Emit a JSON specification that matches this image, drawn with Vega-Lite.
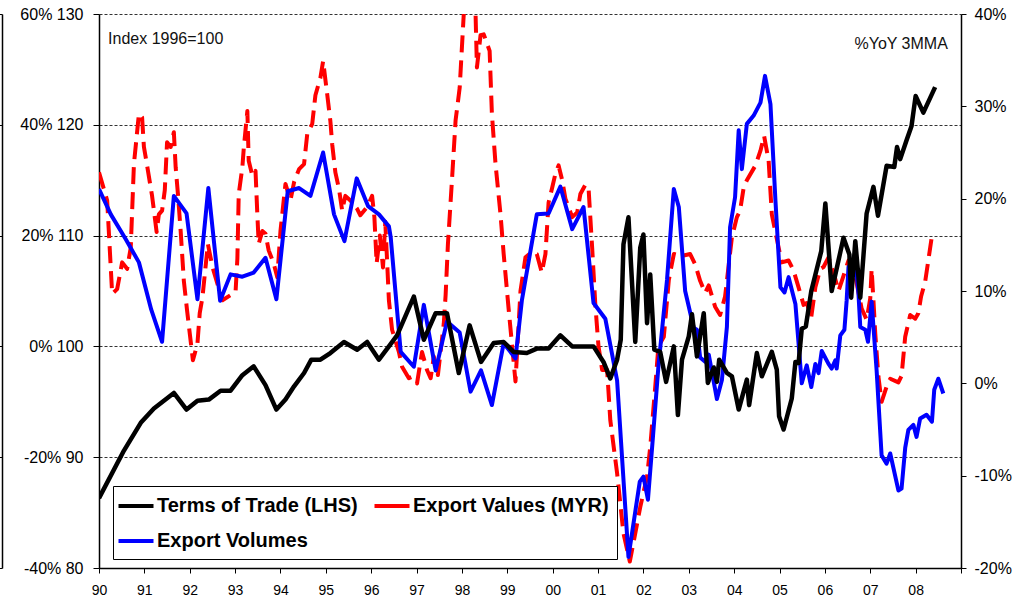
{
  "$schema": "https://vega.github.io/schema/vega-lite/v6.json",
  "width": 862,
  "height": 554,
  "autosize": {"type": "none"},
  "padding": {"left": 99, "top": 14, "right": 54, "bottom": 35},
  "background": "white",
  "config": {
    "view": {"stroke": null},
    "font": "Liberation Sans",
    "axis": {"labelFont": "Liberation Sans", "labelColor": "black", "domainColor": "black", "tickColor": "black", "title": null}
  },
  "datasets": {
    "tot": [
      {"t":1990.00,"v":86.3},{"t":1990.55,"v":90.6},{"t":1990.92,"v":93.1},{"t":1991.21,"v":94.4},{"t":1991.65,"v":95.8},{"t":1991.93,"v":94.3},
      {"t":1992.17,"v":95.1},{"t":1992.42,"v":95.2},{"t":1992.68,"v":96.0},{"t":1992.90,"v":96.0},{"t":1993.16,"v":97.4},{"t":1993.41,"v":98.2},
      {"t":1993.67,"v":96.5},{"t":1993.91,"v":94.3},{"t":1994.11,"v":95.2},{"t":1994.30,"v":96.4},{"t":1994.52,"v":97.6},{"t":1994.68,"v":98.8},
      {"t":1994.88,"v":98.8},{"t":1995.10,"v":99.4},{"t":1995.40,"v":100.4},{"t":1995.69,"v":99.7},{"t":1995.91,"v":100.4},{"t":1996.17,"v":98.8},
      {"t":1996.39,"v":100.0},{"t":1996.57,"v":101.0},{"t":1996.94,"v":104.5},{"t":1997.16,"v":100.6},{"t":1997.42,"v":103.0},{"t":1997.67,"v":103.0},
      {"t":1997.93,"v":97.6},{"t":1998.17,"v":101.9},{"t":1998.42,"v":98.6},{"t":1998.70,"v":100.3},{"t":1998.92,"v":100.4},{"t":1999.14,"v":99.5},
      {"t":1999.43,"v":99.4},{"t":1999.65,"v":99.8},{"t":1999.91,"v":99.8},{"t":2000.17,"v":101.0},{"t":2000.43,"v":100.0},{"t":2000.90,"v":100.0},
      {"t":2001.12,"v":98.6},{"t":2001.27,"v":97.1},{"t":2001.42,"v":98.8},{"t":2001.50,"v":100.6},{"t":2001.56,"v":109.2},{"t":2001.67,"v":111.65},
      {"t":2001.82,"v":100.4},{"t":2001.93,"v":108.9},{"t":2002.00,"v":110.1},{"t":2002.08,"v":102.1},{"t":2002.15,"v":106.5},{"t":2002.24,"v":99.7},
      {"t":2002.37,"v":99.5},{"t":2002.50,"v":96.8},{"t":2002.67,"v":100.0},{"t":2002.76,"v":93.8},{"t":2002.85,"v":98.8},{"t":2003.00,"v":100.9},
      {"t":2003.07,"v":102.9},{"t":2003.18,"v":99.1},{"t":2003.33,"v":103.0},{"t":2003.42,"v":96.7},{"t":2003.55,"v":98.1},{"t":2003.62,"v":96.8},
      {"t":2003.67,"v":98.8},{"t":2003.84,"v":97.6},{"t":2003.95,"v":97.3},{"t":2004.10,"v":94.3},{"t":2004.28,"v":97.0},{"t":2004.33,"v":94.7},
      {"t":2004.50,"v":99.4},{"t":2004.61,"v":97.3},{"t":2004.83,"v":99.5},{"t":2004.94,"v":97.9},{"t":2004.99,"v":93.7},{"t":2005.09,"v":92.5},
      {"t":2005.27,"v":95.3},{"t":2005.35,"v":98.6},{"t":2005.42,"v":98.5},{"t":2005.49,"v":101.6},{"t":2005.58,"v":101.8},{"t":2005.70,"v":105.0},
      {"t":2005.92,"v":108.6},{"t":2006.01,"v":112.9},{"t":2006.15,"v":105.0},{"t":2006.41,"v":109.8},{"t":2006.54,"v":108.3},{"t":2006.58,"v":104.4},
      {"t":2006.67,"v":109.5},{"t":2006.78,"v":104.4},{"t":2006.92,"v":112.0},{"t":2007.07,"v":114.4},{"t":2007.17,"v":111.8},{"t":2007.36,"v":116.3},
      {"t":2007.53,"v":116.2},{"t":2007.59,"v":118.0},{"t":2007.66,"v":116.9},{"t":2007.80,"v":118.6},{"t":2007.91,"v":119.9},{"t":2008.00,"v":122.6},
      {"t":2008.17,"v":121.1},{"t":2008.43,"v":123.4}
    ],
    "ev": [
      {"t":1990.00,"v":22.85},{"t":1990.18,"v":19.8},{"t":1990.29,"v":9.7},{"t":1990.40,"v":10.2},{"t":1990.51,"v":13.1},{"t":1990.62,"v":12.4},
      {"t":1990.70,"v":14.7},{"t":1990.77,"v":23.75},{"t":1990.88,"v":29.2},{"t":1990.95,"v":28.8},{"t":1990.99,"v":25.6},{"t":1991.06,"v":23.6},
      {"t":1991.17,"v":20.3},{"t":1991.27,"v":16.4},{"t":1991.32,"v":18.3},{"t":1991.39,"v":18.7},{"t":1991.45,"v":20.9},{"t":1991.50,"v":26.1},
      {"t":1991.58,"v":25.6},{"t":1991.65,"v":27.2},{"t":1991.69,"v":23.4},{"t":1991.74,"v":20.5},{"t":1991.80,"v":16.5},{"t":1991.87,"v":11.1},
      {"t":1991.94,"v":7.95},{"t":1992.07,"v":2.5},{"t":1992.17,"v":4.3},{"t":1992.22,"v":7.6},{"t":1992.28,"v":9.3},{"t":1992.40,"v":15.1},
      {"t":1992.50,"v":12.6},{"t":1992.72,"v":9.0},{"t":1993.01,"v":9.9},{"t":1993.05,"v":13.5},{"t":1993.08,"v":20.5},{"t":1993.16,"v":23.4},
      {"t":1993.19,"v":25.4},{"t":1993.27,"v":29.5},{"t":1993.30,"v":24.1},{"t":1993.38,"v":22.5},{"t":1993.45,"v":23.0},{"t":1993.49,"v":18.3},
      {"t":1993.52,"v":15.1},{"t":1993.60,"v":16.5},{"t":1993.67,"v":16.2},{"t":1993.74,"v":14.4},{"t":1993.85,"v":13.0},{"t":1993.93,"v":11.5},
      {"t":1994.00,"v":16.5},{"t":1994.11,"v":21.6},{"t":1994.22,"v":19.8},{"t":1994.30,"v":21.8},{"t":1994.41,"v":23.2},{"t":1994.52,"v":23.75},
      {"t":1994.59,"v":27.0},{"t":1994.70,"v":28.1},{"t":1994.77,"v":31.2},{"t":1994.88,"v":33.1},{"t":1994.94,"v":34.9},{"t":1995.03,"v":31.3},
      {"t":1995.10,"v":28.4},{"t":1995.14,"v":25.9},{"t":1995.21,"v":22.85},{"t":1995.29,"v":21.05},{"t":1995.36,"v":18.7},{"t":1995.43,"v":20.3},
      {"t":1995.54,"v":19.8},{"t":1995.69,"v":18.9},{"t":1995.76,"v":18.2},{"t":1995.91,"v":19.1},{"t":1996.02,"v":20.3},{"t":1996.07,"v":18.0},
      {"t":1996.12,"v":13.0},{"t":1996.19,"v":16.0},{"t":1996.26,"v":12.55},{"t":1996.31,"v":17.5},{"t":1996.39,"v":9.0},{"t":1996.46,"v":5.8},
      {"t":1996.61,"v":3.4},{"t":1996.68,"v":1.8},{"t":1996.83,"v":0.55},{"t":1996.90,"v":0.7},{"t":1997.01,"v":0.0},{"t":1997.12,"v":3.4},
      {"t":1997.23,"v":1.45},{"t":1997.31,"v":0.55},{"t":1997.38,"v":2.9},{"t":1997.47,"v":0.9},{"t":1997.60,"v":6.5},{"t":1997.64,"v":9.55},
      {"t":1997.69,"v":15.0},{"t":1997.78,"v":22.0},{"t":1997.86,"v":28.5},{"t":1997.95,"v":32.0},{"t":1998.04,"v":40.0},{"t":1998.11,"v":44.0},
      {"t":1998.19,"v":44.5},{"t":1998.30,"v":40.0},{"t":1998.33,"v":34.2},{"t":1998.41,"v":37.7},{"t":1998.48,"v":37.8},{"t":1998.61,"v":36.0},
      {"t":1998.66,"v":29.2},{"t":1998.74,"v":23.75},{"t":1998.85,"v":18.3},{"t":1998.92,"v":14.0},{"t":1999.03,"v":8.0},{"t":1999.18,"v":0.2},
      {"t":1999.29,"v":10.0},{"t":1999.40,"v":13.65},{"t":1999.54,"v":14.2},{"t":1999.65,"v":14.0},{"t":1999.76,"v":12.0},{"t":1999.84,"v":14.0},
      {"t":1999.91,"v":19.6},{"t":1999.99,"v":21.2},{"t":2000.06,"v":22.7},{"t":2000.13,"v":23.6},{"t":2000.21,"v":22.0},{"t":2000.28,"v":20.0},
      {"t":2000.43,"v":18.0},{"t":2000.54,"v":18.5},{"t":2000.61,"v":20.5},{"t":2000.72,"v":21.5},{"t":2000.79,"v":21.2},{"t":2000.87,"v":14.7},
      {"t":2000.94,"v":8.5},{"t":2001.01,"v":4.0},{"t":2001.09,"v":1.45},{"t":2001.20,"v":1.45},{"t":2001.27,"v":-4.0},{"t":2001.42,"v":-9.75},
      {"t":2001.56,"v":-16.25},{"t":2001.70,"v":-19.3},{"t":2001.82,"v":-16.25},{"t":2001.93,"v":-13.4},{"t":2002.08,"v":-10.1},{"t":2002.15,"v":-6.9},
      {"t":2002.26,"v":-0.4},{"t":2002.33,"v":4.0},{"t":2002.45,"v":5.05},{"t":2002.56,"v":11.2},{"t":2002.67,"v":14.0},{"t":2002.85,"v":13.8},
      {"t":2003.03,"v":14.0},{"t":2003.14,"v":12.9},{"t":2003.25,"v":11.1},{"t":2003.36,"v":9.8},{"t":2003.44,"v":10.6},{"t":2003.58,"v":8.3},
      {"t":2003.69,"v":7.4},{"t":2003.80,"v":9.4},{"t":2003.95,"v":15.8},{"t":2004.06,"v":18.0},{"t":2004.13,"v":18.7},{"t":2004.21,"v":21.2},
      {"t":2004.28,"v":22.0},{"t":2004.47,"v":23.6},{"t":2004.58,"v":25.2},{"t":2004.66,"v":26.8},{"t":2004.76,"v":24.1},{"t":2004.83,"v":18.3},
      {"t":2004.98,"v":14.7},{"t":2005.05,"v":13.1},{"t":2005.20,"v":13.3},{"t":2005.31,"v":12.2},{"t":2005.42,"v":10.4},{"t":2005.53,"v":8.5},
      {"t":2005.60,"v":8.7},{"t":2005.70,"v":7.2},{"t":2005.79,"v":10.4},{"t":2005.90,"v":12.4},{"t":2005.97,"v":12.6},{"t":2006.08,"v":13.65},
      {"t":2006.19,"v":12.0},{"t":2006.30,"v":10.0},{"t":2006.41,"v":11.65},{"t":2006.52,"v":13.3},{"t":2006.63,"v":12.6},{"t":2006.81,"v":8.1},
      {"t":2006.92,"v":6.9},{"t":2007.00,"v":9.2},{"t":2007.03,"v":12.35},{"t":2007.07,"v":9.0},{"t":2007.11,"v":5.4},{"t":2007.18,"v":0.7},
      {"t":2007.25,"v":-2.0},{"t":2007.36,"v":-0.35},{"t":2007.44,"v":0.5},{"t":2007.62,"v":0.1},{"t":2007.69,"v":0.8},{"t":2007.77,"v":5.05},
      {"t":2007.88,"v":7.4},{"t":2007.99,"v":7.0},{"t":2008.06,"v":7.6},{"t":2008.12,"v":9.4},{"t":2008.21,"v":11.0},{"t":2008.36,"v":16.0},
      {"t":2008.38,"v":16.2}
    ],
    "vol": [
      {"t":1990.00,"v":21.05},{"t":1990.26,"v":18.3},{"t":1990.59,"v":15.6},{"t":1990.88,"v":13.1},{"t":1991.15,"v":8.0},{"t":1991.39,"v":4.5},
      {"t":1991.65,"v":20.3},{"t":1991.93,"v":18.4},{"t":1992.17,"v":9.1},{"t":1992.41,"v":21.15},{"t":1992.67,"v":8.95},{"t":1992.90,"v":11.8},
      {"t":1993.16,"v":11.55},{"t":1993.41,"v":12.0},{"t":1993.67,"v":13.6},{"t":1993.91,"v":9.1},{"t":1994.16,"v":20.8},{"t":1994.41,"v":21.15},
      {"t":1994.66,"v":20.3},{"t":1994.94,"v":25.0},{"t":1995.18,"v":18.3},{"t":1995.41,"v":15.4},{"t":1995.68,"v":22.2},{"t":1995.93,"v":19.2},
      {"t":1996.17,"v":18.3},{"t":1996.39,"v":17.0},{"t":1996.43,"v":15.8},{"t":1996.65,"v":3.4},{"t":1996.94,"v":1.8},{"t":1997.16,"v":8.5},
      {"t":1997.42,"v":1.4},{"t":1997.67,"v":6.7},{"t":1997.95,"v":5.5},{"t":1998.19,"v":-0.9},{"t":1998.42,"v":1.4},{"t":1998.66,"v":-2.35},
      {"t":1998.92,"v":4.35},{"t":1999.18,"v":2.7},{"t":1999.32,"v":8.95},{"t":1999.65,"v":18.3},{"t":1999.91,"v":18.4},{"t":2000.17,"v":21.3},
      {"t":2000.43,"v":16.7},{"t":2000.68,"v":19.1},{"t":2000.90,"v":8.7},{"t":2001.16,"v":7.0},{"t":2001.42,"v":0.3},{"t":2001.67,"v":-18.8},
      {"t":2001.92,"v":-10.65},{"t":2002.00,"v":-10.1},{"t":2002.10,"v":-12.6},{"t":2002.21,"v":-5.8},{"t":2002.33,"v":1.8},{"t":2002.52,"v":11.2},
      {"t":2002.67,"v":21.05},{"t":2002.78,"v":19.1},{"t":2002.92,"v":10.0},{"t":2003.11,"v":6.0},{"t":2003.18,"v":5.8},{"t":2003.25,"v":2.8},
      {"t":2003.36,"v":2.35},{"t":2003.44,"v":3.1},{"t":2003.62,"v":-1.7},{"t":2003.73,"v":0.35},{"t":2003.84,"v":6.1},{"t":2003.91,"v":16.9},
      {"t":2004.02,"v":20.15},{"t":2004.10,"v":27.4},{"t":2004.17,"v":23.2},{"t":2004.28,"v":28.1},{"t":2004.43,"v":29.0},{"t":2004.58,"v":30.4},
      {"t":2004.68,"v":33.3},{"t":2004.80,"v":30.25},{"t":2004.91,"v":19.8},{"t":2005.02,"v":10.4},{"t":2005.11,"v":9.85},{"t":2005.20,"v":11.5},
      {"t":2005.35,"v":8.6},{"t":2005.49,"v":0.0},{"t":2005.60,"v":1.95},{"t":2005.70,"v":-0.4},{"t":2005.79,"v":2.1},{"t":2005.86,"v":1.1},
      {"t":2005.93,"v":3.5},{"t":2006.08,"v":2.1},{"t":2006.15,"v":1.6},{"t":2006.23,"v":2.5},{"t":2006.26,"v":1.6},{"t":2006.34,"v":5.2},
      {"t":2006.43,"v":5.8},{"t":2006.48,"v":9.0},{"t":2006.52,"v":12.6},{"t":2006.67,"v":13.5},{"t":2006.74,"v":9.7},{"t":2006.78,"v":6.1},
      {"t":2006.89,"v":5.8},{"t":2006.95,"v":4.5},{"t":2007.03,"v":8.85},{"t":2007.14,"v":1.4},{"t":2007.25,"v":-7.8},{"t":2007.36,"v":-8.7},
      {"t":2007.44,"v":-7.6},{"t":2007.62,"v":-11.6},{"t":2007.69,"v":-11.4},{"t":2007.77,"v":-7.0},{"t":2007.84,"v":-5.05},{"t":2007.95,"v":-4.5},
      {"t":2008.02,"v":-5.8},{"t":2008.10,"v":-3.8},{"t":2008.24,"v":-3.4},{"t":2008.36,"v":-4.15},{"t":2008.41,"v":-0.7},{"t":2008.50,"v":0.5},
      {"t":2008.61,"v":-1.1}
    ]
  },
  "layer": [
    {
      "layer": [
        {
          "data": {"name": "ev"},
          "mark": {"type": "line", "strokeWidth": 4, "strokeDash": [17, 8], "clip": true, "strokeJoin": "round"},
          "encoding": {
            "x": {"field": "t", "type": "quantitative"},
            "y": {
              "field": "v", "type": "quantitative",
              "scale": {"domain": [-20, 40], "nice": false, "zero": false},
              "axis": {"orient": "right", "values": [-20,-10,0,10,20,30,40], "labelExpr": "datum.value + '%'", "grid": false, "title": null, "tickSize": 5, "labelFontSize": 16, "labelPadding": 8, "domainWidth": 1.5}
            },
            "color": {
              "datum": "Export Values (MYR)",
              "type": "nominal",
              "scale": {"domain": ["Terms of Trade (LHS)", "Export Values (MYR)", "Export Volumes"], "range": ["#000000", "#ff0000", "#0000ff"]},
              "legend": {
                "title": null, "orient": "none", "legendX": 14, "legendY": 472, "columns": 2, "direction": "horizontal",
                "symbolType": "M-1.75,0H1.75", "symbolSize": 400, "symbolStrokeWidth": 4, "symbolOffset": 3,
                "labelFont": "Liberation Sans", "labelFontSize": 20, "labelFontWeight": "bold", "labelColor": "black", "labelLimit": 400,
                "labelOffset": 9, "padding": 8, "rowPadding": 13, "columnPadding": 8,
                "fillColor": "white", "strokeColor": "black"
              }
            }
          }
        },
        {
          "data": {"name": "vol"},
          "mark": {"type": "line", "strokeWidth": 4, "clip": true, "strokeJoin": "round"},
          "encoding": {
            "x": {"field": "t", "type": "quantitative"},
            "y": {"field": "v", "type": "quantitative"},
            "color": {"datum": "Export Volumes", "type": "nominal"}
          }
        },
        {
          "data": {"values": [{}]},
          "mark": {"type": "text", "text": "%YoY 3MMA", "align": "right", "baseline": "alphabetic", "fontSize": 16, "font": "Liberation Sans", "color": "#111"},
          "encoding": {
            "x": {"datum": 2008.71, "type": "quantitative"},
            "y": {"datum": 36.2, "type": "quantitative"}
          }
        }
      ]
    },
    {
      "layer": [
        {
          "data": {"name": "tot"},
          "mark": {"type": "line", "strokeWidth": 4.5, "clip": true, "strokeJoin": "round"},
          "encoding": {
            "x": {
              "field": "t",
              "type": "quantitative",
              "scale": {"domain": [1990, 2009], "nice": false, "zero": false},
              "axis": {
                "values": [1990,1990.25,1990.5,1990.75,1991,1991.25,1991.5,1991.75,1992,1992.25,1992.5,1992.75,1993,1993.25,1993.5,1993.75,1994,1994.25,1994.5,1994.75,1995,1995.25,1995.5,1995.75,1996,1996.25,1996.5,1996.75,1997,1997.25,1997.5,1997.75,1998,1998.25,1998.5,1998.75,1999,1999.25,1999.5,1999.75,2000,2000.25,2000.5,2000.75,2001,2001.25,2001.5,2001.75,2002,2002.25,2002.5,2002.75,2003,2003.25,2003.5,2003.75,2004,2004.25,2004.5,2004.75,2005,2005.25,2005.5,2005.75,2006,2006.25,2006.5,2006.75,2007,2007.25,2007.5,2007.75,2008,2008.25,2008.5,2008.75,2009],
                "labelExpr": "(datum.value % 1 == 0 && datum.value < 2009) ? slice('0' + (datum.value % 100), -2) : ''",
                "grid": false,
                "title": null,
                "tickSize": 5,
                "labelFontSize": 14,
                "labelPadding": 10,
                "labelOverlap": false,
                "labelFlush": false,
                "labelBound": false,
                "domainWidth": 1.5
              }
            },
            "y": {
              "field": "v", "type": "quantitative",
              "scale": {"domain": [80, 130], "nice": false, "zero": false},
              "axis": {"orient": "left", "values": [80,90,100,110,120,130], "labelExpr": "((datum.value - 100) * 2) + '% ' + datum.value", "grid": true, "gridDash": [3, 2], "gridColor": "#333333", "gridWidth": 1, "title": null, "tickSize": 6, "labelFontSize": 16, "labelPadding": 10, "domainWidth": 1.5}
            },
            "color": {"datum": "Terms of Trade (LHS)", "type": "nominal"}
          }
        },
        {
          "data": {"values": [{}]},
          "mark": {"type": "text", "text": "Index 1996=100", "align": "left", "baseline": "alphabetic", "fontSize": 16, "font": "Liberation Sans", "color": "#111"},
          "encoding": {
            "x": {"datum": 1990.2, "type": "quantitative"},
            "y": {"datum": 127.3, "type": "quantitative"}
          }
        }
      ]
    },
    {
      "data": {"name": "tot"},
      "mark": {"type": "line", "opacity": 0},
      "encoding": {
        "x": {"field": "t", "type": "quantitative"},
        "y": {
          "field": "v", "type": "quantitative",
          "scale": {"domain": [80, 130], "nice": false, "zero": false},
          "axis": {"orient": "left", "offset": 97, "values": [80,90,100,110,120,130], "labels": false, "grid": false, "title": null, "tickSize": 3, "domainWidth": 1.5}
        }
      }
    }
  ],
  "resolve": {"scale": {"y": "independent"}}
}
